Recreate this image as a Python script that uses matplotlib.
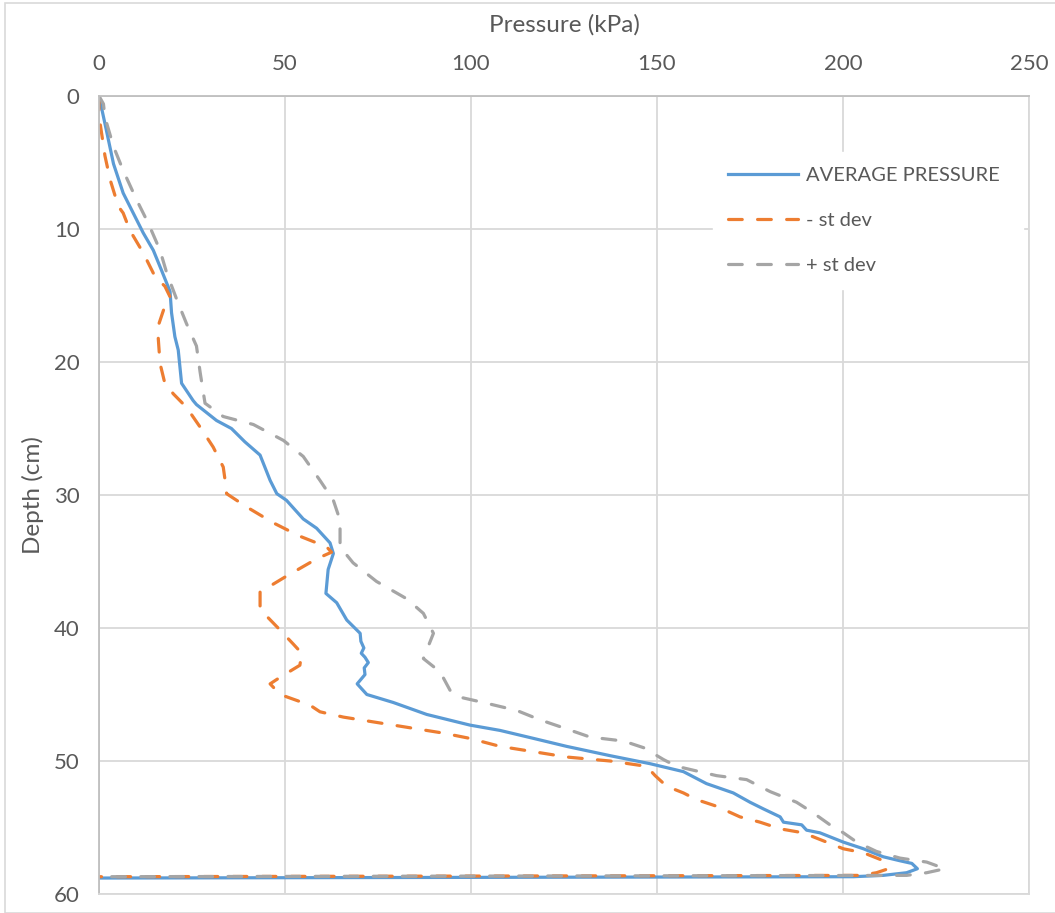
import matplotlib.pyplot as plt
from matplotlib.patches import Rectangle

# Pressure profile with depth (kPa vs cm)
avg_kpa = [0, 2, 3.9, 6.5, 9.2, 11.9, 14.6, 16.8, 19.1, 19.5, 20.4, 21.3, 22.2,
           25.3, 26.2, 31.6, 35.6, 39.2, 43.3, 46, 47.8, 50.4, 54.9, 58.5, 62.1,
           63, 61.6, 61, 63.9, 66.6, 70.2, 70.4, 71.2, 70.5, 71.5, 72.4, 71.3,
           71.5, 69.4, 72, 79.1, 88.1, 99.7, 107.8, 116.8, 125.7, 137.4, 148.1,
           157.1, 163.3, 170.5, 175, 178.6, 183.1, 184, 188.9, 190.2, 193.8,
           200.1, 205.5, 210.8, 215.3, 218.5, 220, 217.1, 210.8, 202.8, 0]
avg_depth = [0, 2.6, 5.1, 7.3, 8.8, 10.3, 11.6, 13.1, 14.7, 16.3, 18.1, 19.1, 21.6,
             22.9, 23.2, 24.4, 25.0, 26.0, 27.0, 28.9, 29.9, 30.4, 31.8, 32.5, 33.6,
             34.4, 35.6, 37.4, 38.1, 39.4, 40.4, 41.0, 41.5, 41.9, 42.2, 42.6, 43.0,
             43.5, 44.2, 45.0, 45.6, 46.5, 47.3, 47.7, 48.3, 48.9, 49.6, 50.2,
             50.8, 51.7, 52.4, 53.1, 53.6, 54.2, 54.6, 54.8, 55.2, 55.4,
             56.1, 56.6, 57.2, 57.5, 57.7, 58.1, 58.4, 58.6, 58.7, 58.8]

minus_kpa = [0, 0, 0.7, 1.6, 3, 5.2, 6.5, 8.3, 11.9, 15.1, 17.7, 19.1, 17.7, 15.9,
             15.9, 16.4, 17.7, 20, 23.5, 27.2, 30.7, 33.4, 33.9, 34.3, 39.7, 46.9,
             54, 61.2, 62.5, 58.5, 50.4, 43.3, 43.3, 47.8, 52.2, 54.5, 54, 48.7, 46,
             48.7, 56.7, 59.4, 65.7, 79.1, 92.5, 99.7, 107.8, 116.8, 125.7, 137.4,
             147.2, 149.5, 152.6, 157.1, 160.6, 166, 172.3, 177.7, 183.1, 189.3,
             193.8, 200.1, 205.5, 210, 212.2, 209, 204.6, 0]
minus_depth = [0, 1.5, 2.8, 4.5, 6.3, 8.3, 8.8, 10.1, 11.8, 13.6, 14.3, 15.1, 15.8,
               17.3, 18.1, 20.1, 21.6, 22.4, 23.4, 24.9, 26.4, 27.9, 28.9, 29.9, 30.9,
               32.1, 33.1, 33.9, 34.3, 34.8, 36.1, 37.3, 38.6, 39.9, 41.2, 41.9, 42.8,
               43.7, 44.2, 45.0, 45.8, 46.3, 46.7, 47.3, 47.9, 48.3, 48.9, 49.3, 49.7,
               50.0, 50.4, 51.1, 51.9, 52.4, 52.9, 53.4, 54.2, 54.6, 55.1, 55.4,
               55.9, 56.6, 56.9, 57.4, 58.1, 58.4, 58.6, 58.7]

plus_kpa = [0, 1.2, 1.6, 3.9, 6.5, 10.1, 13.3, 16.4, 18.2, 20.9, 23.5, 26.2, 27.2,
            28.5, 33.4, 41.5, 49.6, 54.9, 59.4, 63, 64.8, 64.8, 68.3, 74.6, 82.7,
            87.2, 89.9, 87.2, 91.7, 94.4, 97, 103.3, 112.3, 118.5, 124.8, 132, 141,
            146.4, 151.8, 155.3, 166, 174.1, 180.4, 187.5, 192, 196.5, 200.1,
            203.7, 209, 215.3, 222.5, 227.4, 222.5, 217.1, 0]
plus_depth = [0, 0.6, 1.6, 3.8, 5.6, 7.8, 9.6, 11.6, 13.3, 15.3, 17.1, 18.8, 20.8,
              23.1, 24.1, 24.7, 25.9, 27.1, 28.9, 30.4, 31.9, 33.9, 35.1, 36.5, 37.8,
              38.9, 40.4, 42.3, 43.3, 44.7, 45.2, 45.6, 46.2, 46.9, 47.5, 48.2, 48.5,
              49.0, 49.9, 50.4, 51.1, 51.4, 52.3, 53.1, 53.9, 54.8, 55.4,
              56.1, 56.8, 57.3, 57.6, 58.1, 58.4, 58.6, 58.7]

x_ticks = [0, 50, 100, 150, 200, 250]
y_ticks = [0, 10, 20, 30, 40, 50, 60]

text_col = "#595959"
grid_col = "#D9D9D9"
dash = (0, (4.3, 4.8))

plt.rcParams["font.family"] = ["Lato", "DejaVu Sans"]

fig = plt.figure(figsize=(10.55, 9.13), dpi=100)
fig.patches.append(Rectangle((5 / 1055, 0), 1.2, 1 - 3 / 913, transform=fig.transFigure,
                             fill=False, edgecolor=grid_col, linewidth=1.2))
ax = fig.add_axes([99 / 1055, 19 / 913, 930 / 1055, 798 / 913])

ax.plot(avg_kpa, avg_depth, color="#5B9BD5", lw=2.3, label="AVERAGE PRESSURE",
        solid_joinstyle="round")
ax.plot(minus_kpa, minus_depth, color="#ED7D31", lw=2.3, label="- st dev",
        linestyle=dash, dash_capstyle="round")
ax.plot(plus_kpa, plus_depth, color="#A5A5A5", lw=2.3, label="+ st dev",
        linestyle=dash, dash_capstyle="round")

ax.set_xlim(0, 250)
ax.set_ylim(60, 0)
ax.set_xticks(x_ticks)
ax.set_yticks(y_ticks)
ax.xaxis.tick_top()
ax.xaxis.set_label_position("top")
ax.grid(True, color=grid_col, linewidth=1.3)
ax.set_axisbelow(True)
for s in ax.spines.values():
    s.set_color(grid_col)
    s.set_linewidth(1.3)
ax.spines["top"].set_color("#BFBFBF")
ax.spines["left"].set_color("#BFBFBF")
ax.tick_params(axis="both", length=0, labelsize=16, colors=text_col)
ax.tick_params(axis="x", pad=16)
ax.tick_params(axis="y", pad=14)

ax.set_xlabel("Pressure (kPa)", fontsize=17.5, color=text_col, labelpad=16)
ax.set_ylabel("Depth (cm)", fontsize=17.5, color=text_col, labelpad=7)

leg = ax.legend(loc="upper left", bbox_to_anchor=(0.660, 0, 0.3335, 0.930),
                mode="expand", borderaxespad=0, fontsize=14.5, frameon=True,
                fancybox=False, handlelength=3.5, handletextpad=0.4,
                labelspacing=1.38, borderpad=0.75)
leg.get_frame().set_facecolor("white")
leg.get_frame().set_edgecolor("white")
leg.get_frame().set_alpha(1)
for t in leg.get_texts():
    t.set_color(text_col)

fig.savefig("out.png", dpi=100)
plt.close(fig)
